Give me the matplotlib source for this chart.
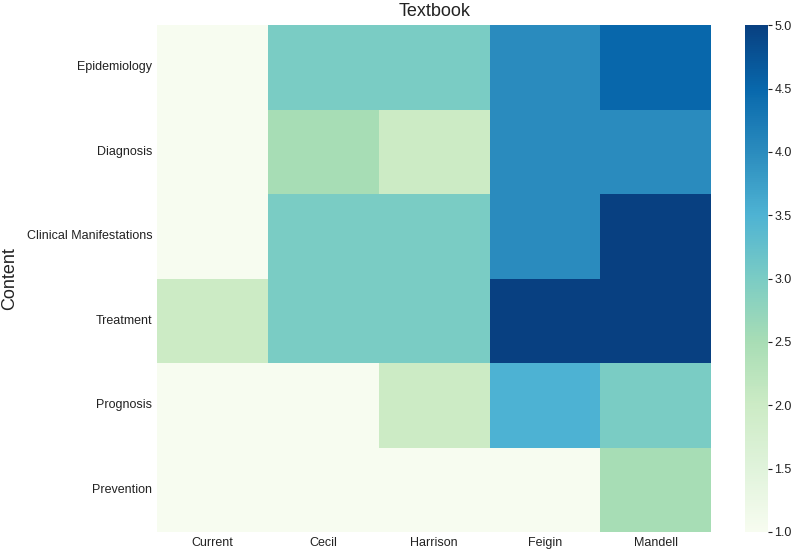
import matplotlib
matplotlib.use("Agg")
import matplotlib.pyplot as plt
import numpy as np
import seaborn as sns

textbooks = ["Current", "Cecil", "Harrison", "Feigin", "Mandell"]
contents = ["Epidemiology", "Diagnosis", "Clinical Manifestations",
            "Treatment", "Prognosis", "Prevention"]

epidemiology = [1.0, 3.0, 3.0, 4.0, 4.5]
diagnosis = [1.0, 2.5, 2.0, 4.0, 4.0]
clinical = [1.0, 3.0, 3.0, 4.0, 5.0]
treatment = [2.0, 3.0, 3.0, 5.0, 5.0]
prognosis = [1.0, 1.0, 2.0, 3.5, 3.0]
prevention = [1.0, 1.0, 1.0, 1.0, 2.5]

cbar_ticks = [1.0, 1.5, 2.0, 2.5, 3.0, 3.5, 4.0, 4.5, 5.0]

scores = np.array([epidemiology, diagnosis, clinical, treatment, prognosis, prevention])

plt.rcParams["font.family"] = ["Liberation Sans", "DejaVu Sans"]

fig = plt.figure(figsize=(7.93, 5.49), dpi=100)
ax = fig.add_axes([0.198, 0.031, 0.699, 0.923])
cax = fig.add_axes([0.9395, 0.031, 0.029, 0.923])

sns.heatmap(scores, ax=ax, cbar_ax=cax, cmap="GnBu", vmin=1, vmax=5,
            xticklabels=textbooks, yticklabels=contents)

ax.xaxis.set_label_position("top")
ax.set_xlabel("Textbook", fontsize=13, color="#222222", labelpad=7)
ax.set_ylabel("Content", fontsize=13, color="#222222", labelpad=6)
ax.tick_params(axis="both", length=0, labelsize=9, colors="#222222")
ax.tick_params(axis="y", rotation=0)

cax.set_yticks(cbar_ticks)
cax.set_yticklabels([f"{v:.1f}" for v in cbar_ticks])
cax.tick_params(labelsize=9, colors="#222222", length=3, width=0.8, pad=1.5)

fig.savefig("out.png", dpi=100)
